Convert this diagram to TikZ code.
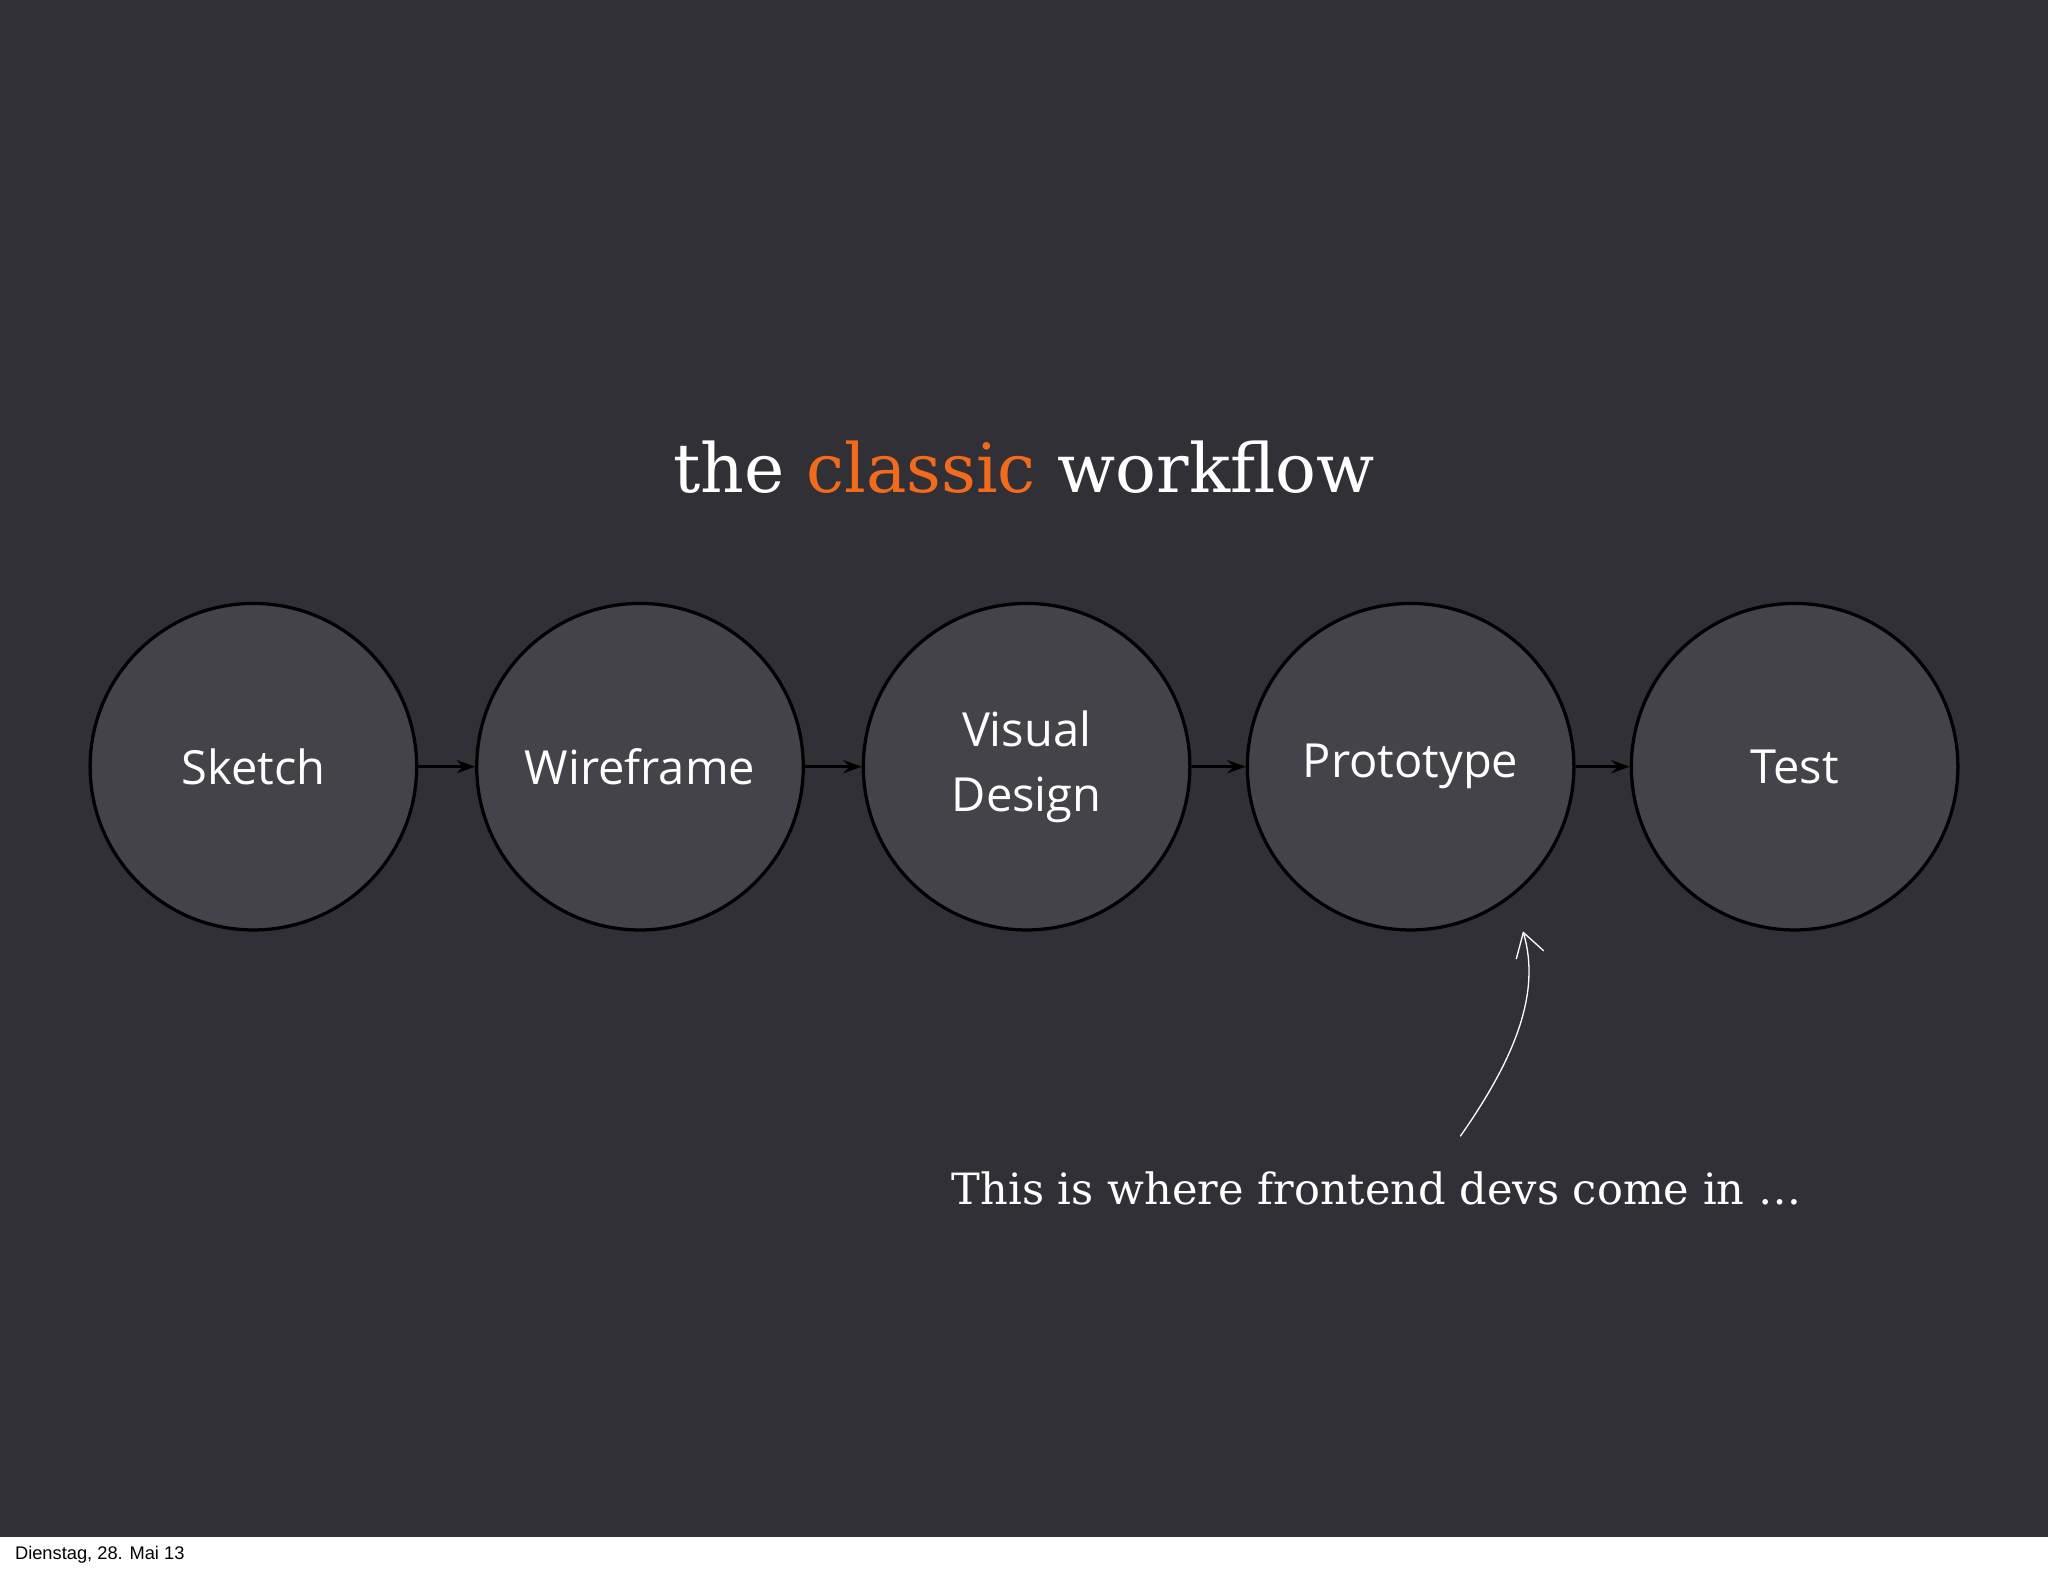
\documentclass[tikz,border=0pt]{standalone}
\usepackage{fontspec}
\setmainfont{DejaVu Serif}
\newfontfamily\opensans{Open Sans}
\newfontfamily\helv{Liberation Sans}
\usetikzlibrary{arrows.meta}
\definecolor{bg}{HTML}{313036}
\definecolor{cfill}{HTML}{444349}
\definecolor{orng}{HTML}{F26B1D}
\tikzset{stage/.style={circle,draw=black,line width=2.5pt,fill=cfill,minimum size=250pt,inner sep=0pt,text=white,font=\opensans\fontsize{36}{50}\selectfont,align=center},
flow/.style={-{Stealth[length=14pt,width=10pt]},line width=2.5pt,black}}
\begin{document}
\begin{tikzpicture}[x=1pt,y=-1pt]
\useasboundingbox (0,0) rectangle (1568,1206);
\fill[white] (0,0) rectangle (1568,1206);
\fill[bg] (0,0) rectangle (1568,1177);
\node[text=white,font=\fontsize{52}{60}\selectfont] (title) at (784,358) {the \textcolor{orng}{classic} workflow};
\node[stage] (s) at (194,587) {Sketch};
\node[stage] (w) at (490,587) {Wireframe};
\node[stage] (v) at (786,587) {Visual\\Design};
\node[stage] (p) at (1080,587) {Prototype};
\node[stage] (t) at (1374,587) {Test};
\draw[flow] (s) -- (w);
\draw[flow] (w) -- (v);
\draw[flow] (v) -- (p);
\draw[flow] (p) -- (t);
\node[text=white,font=\fontsize{33}{40}\selectfont] (note) at (1054,910) {This is where frontend devs come in \dots};
\coordinate (a0) at (1118,870);
\coordinate (a1) at (1166,713);
\draw[white,line width=1pt,-{Straight Barb[length=18pt,width=22pt]}] (a0) .. controls (1160,810) and (1180,760) .. (a1);
\node[anchor=west,font=\helv\fontsize{14}{16}\selectfont] (foot) at (8,1190) {Dienstag, 28. Mai 13};
\end{tikzpicture}
\end{document}
